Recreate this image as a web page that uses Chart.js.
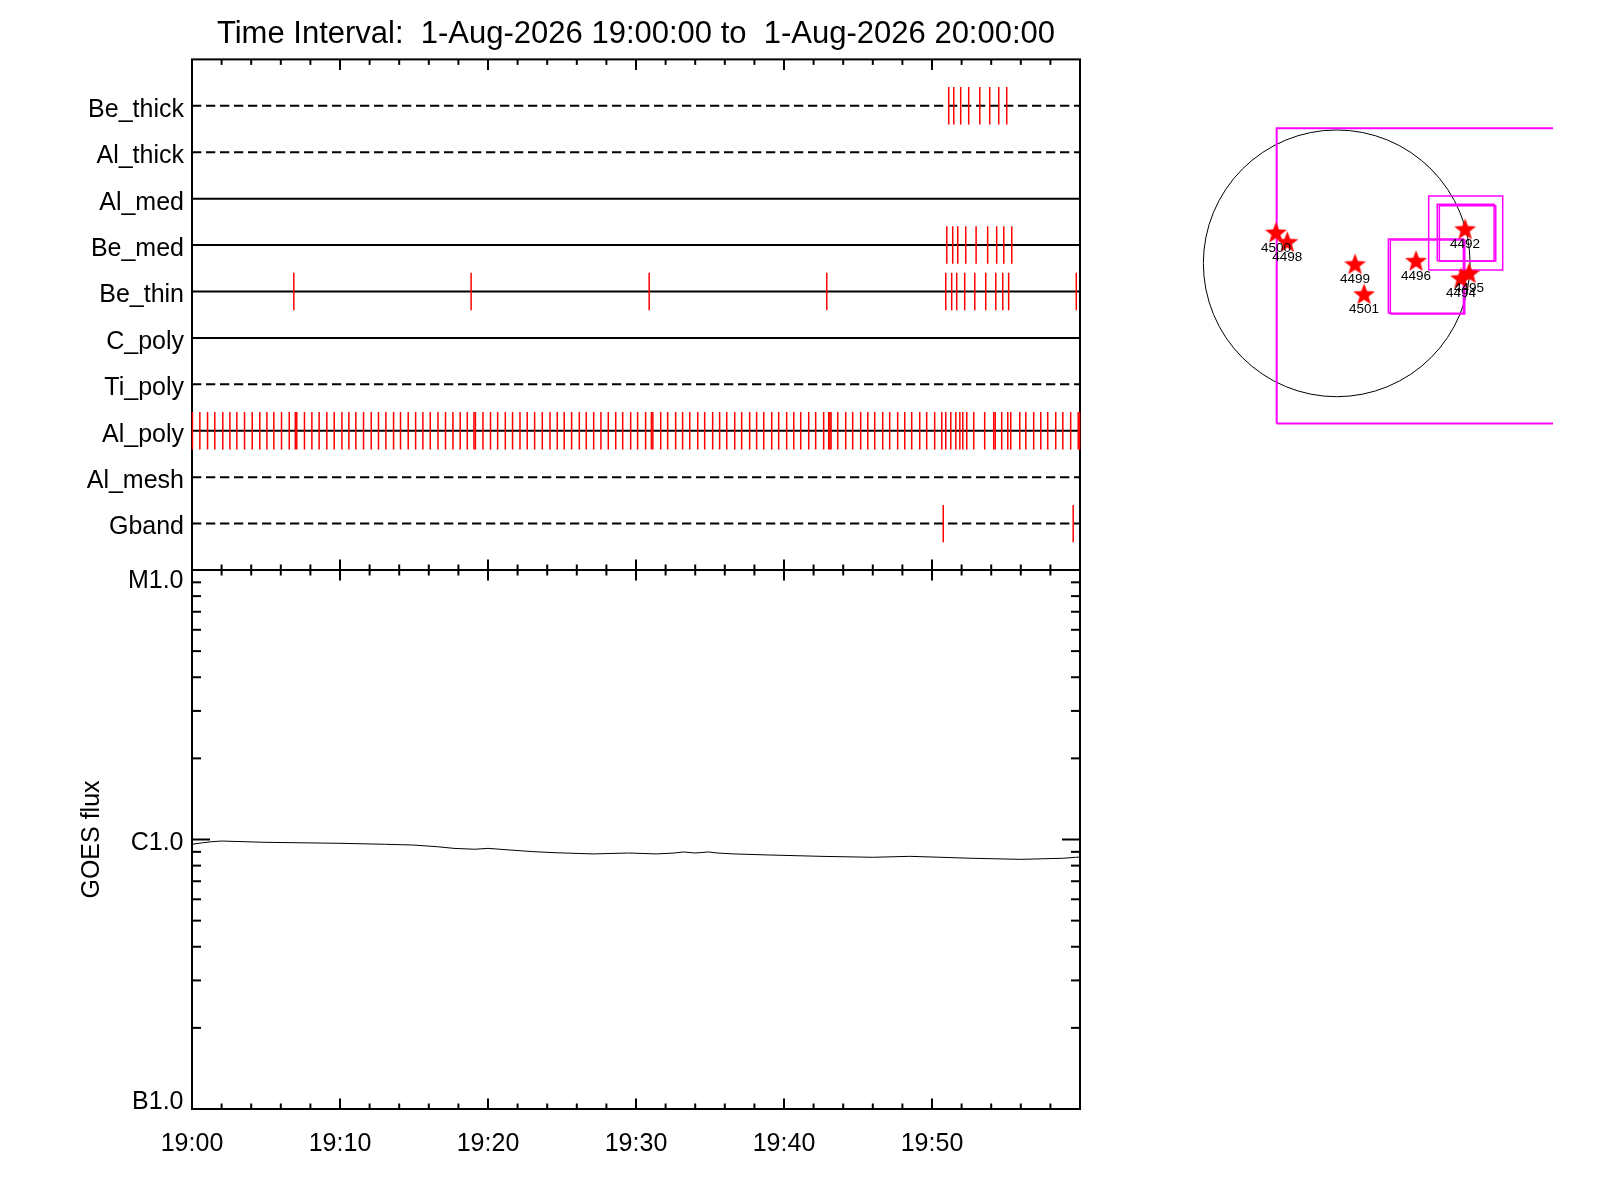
<!DOCTYPE html>
<html><head><meta charset="utf-8">
<script src="https://cdn.jsdelivr.net/npm/chart.js@4.4.1/dist/chart.umd.min.js"></script>
<style>
html,body{margin:0;padding:0;background:#fff;}
#wrap{position:relative;width:1600px;height:1200px;background:#fff;}
canvas{position:absolute;left:0;top:0;}
</style></head><body>
<div id="wrap">
<canvas id="cTop" width="1600" height="1200"></canvas>
<canvas id="cBot" width="1600" height="1200"></canvas>
<canvas id="cSun" width="1600" height="1200"></canvas>
</div>
<script>
// ---------------- DATA ----------------
const TITLE = 'Time Interval:  1-Aug-2026 19:00:00 to  1-Aug-2026 20:00:00';
// filter rows, bottom (1) to top (10)
const FILTERS = ['Gband','Al_mesh','Al_poly','Ti_poly','C_poly','Be_thin','Be_med','Al_med','Al_thick','Be_thick'];
const FILTER_DASHED = [true, true, false, true, false, false, false, false, true, true];
// exposure times, minutes after 19:00
const GBAND_T = [50.76, 59.54];
const AL_POLY_T = [0.03,0.53,1.05,1.54,2.08,2.56,3.03,3.55,4.07,4.58,5.06,5.53,6.05,6.57,6.98,7.08,7.60,8.10,8.59,9.11,9.61,10.13,10.60,11.07,11.59,12.11,12.60,13.10,13.62,14.09,14.61,15.11,15.60,16.10,16.62,17.13,17.63,18.12,18.60,19.05,19.15,19.66,20.17,20.65,21.17,21.66,22.16,22.65,23.15,23.67,24.19,24.68,25.15,25.65,26.17,26.64,27.14,27.63,28.13,28.63,29.10,29.64,30.11,30.65,31.04,31.14,31.67,32.14,32.68,33.15,33.63,34.17,34.64,35.18,35.65,36.13,36.67,37.14,37.68,38.15,38.63,39.17,39.64,40.18,40.66,41.13,41.67,42.14,42.68,43.02,43.10,43.18,43.63,44.17,44.64,45.18,45.66,46.13,46.67,47.14,47.68,48.16,48.63,49.17,49.64,50.18,50.66,50.93,51.27,51.61,51.88,52.08,52.35,52.82,53.56,54.17,54.27,54.71,55.12,55.32,55.93,56.34,56.87,57.35,57.82,58.36,58.84,59.37,59.88,59.97];
const BE_THIN_T = [6.88,18.86,30.89,42.89,50.93,51.33,51.67,52.21,52.89,53.63,54.31,54.78,55.18,59.75];
const BE_MED_T = [51.00,51.40,51.74,52.28,52.98,53.76,54.37,54.85,55.39];
const BE_THICK_T = [51.13,51.47,51.94,52.48,53.23,53.90,54.51,55.05];
const EVENTS = { Gband: GBAND_T, Al_poly: AL_POLY_T, Be_thin: BE_THIN_T, Be_med: BE_MED_T, Be_thick: BE_THICK_T };

// GOES flux (W/m^2) vs minutes after 19:00
const GOES_T    = [0, 0.7, 1.3, 2.0, 5.0, 10.0, 13.0, 14.9, 16.6, 17.7, 19.1, 20.0, 21.5, 23.1, 24.6, 27.1, 29.5, 31.4, 32.6, 33.2, 34.0, 34.9, 35.5, 36.6, 39.0, 42.5, 46.0, 48.5, 50.6, 52.6, 56.0, 58.9, 59.7, 60.0];
const GOES_FLUX = [9.60e-7, 9.72e-7, 9.81e-7, 9.87e-7, 9.76e-7, 9.68e-7, 9.60e-7, 9.54e-7, 9.40e-7, 9.27e-7, 9.20e-7, 9.27e-7, 9.14e-7, 9.01e-7, 8.93e-7, 8.84e-7, 8.91e-7, 8.84e-7, 8.91e-7, 8.99e-7, 8.91e-7, 8.99e-7, 8.91e-7, 8.84e-7, 8.76e-7, 8.66e-7, 8.59e-7, 8.66e-7, 8.59e-7, 8.52e-7, 8.44e-7, 8.52e-7, 8.59e-7, 8.60e-7];

// axis ticks
const TIME_TICKS = [0,2,4,6,8,10,12,14,16,18,20,22,24,26,28,30,32,34,36,38,40,42,44,46,48,50,52,54,56,58,60];
const TIME_MAJOR = [0,10,20,30,40,50,60];
const TIME_LABEL_AT = [0,10,20,30,40,50];
const TIME_LABELS = ['19:00','19:10','19:20','19:30','19:40','19:50'];
const FLUX_TICKS = [1e-7,2e-7,3e-7,4e-7,5e-7,6e-7,7e-7,8e-7,9e-7,1e-6,2e-6,3e-6,4e-6,5e-6,6e-6,7e-6,8e-6,9e-6,1e-5];
const FLUX_LABEL_AT = [1e-7, 1e-6, 1e-5];
const FLUX_LABELS = ['B1.0','C1.0','M1.0'];

// solar disk (arcsec)
const SUN_RADIUS = 960;
const AR_NAMES = ['4500','4498','4499','4501','4496','4492','4495','4494'];
const AR_X = [-437, -356, 132, 197, 571, 924, 953, 895];
const AR_Y = [216, 148, -12, -228, 12, 240, -77, -113];
const BOX_X0 = [-432, 662, 724, 739, 372, 386];
const BOX_X1 = [2600, 1195, 1133, 1145, 912, 922];
const BOX_Y0 = [-1153, -48, 17, 17, -360, -365];
const BOX_Y1 = [972, 485, 425, 415, 175, 168];

// ---------------- STYLE ----------------
const BOX_W = [2, 1.5, 1.5, 1.5, 1.5, 1.5];
const FLUX_LABEL_DY = [-7, 4, 11];   // vertical nudge of B/C/M labels (px)

Chart.defaults.font.family = "'Liberation Sans', Arial, sans-serif";
Chart.defaults.color = '#000';
const FS = 25;

function line(ctx, x1, y1, x2, y2) { ctx.beginPath(); ctx.moveTo(x1, y1); ctx.lineTo(x2, y2); ctx.stroke(); }

const idlFrame = {
  id: 'idlFrame',
  beforeDatasetsDraw(chart, args, opts) {
    const { ctx, chartArea: a, scales } = chart;
    ctx.save();
    ctx.strokeStyle = '#000';
    ctx.lineWidth = 2;
    ctx.strokeRect(a.left, a.top, a.right - a.left, a.bottom - a.top);
    const xs = scales.x;
    TIME_TICKS.forEach(t => {
      const px = xs.getPixelForValue(t);
      const L = TIME_MAJOR.includes(t) ? 10.5 : 5.5;
      line(ctx, px, a.top, px, a.top + L);
      line(ctx, px, a.bottom, px, a.bottom - L);
    });
    if (opts.log) {
      const ys = scales.y;
      FLUX_TICKS.forEach(v => {
        const py = ys.getPixelForValue(v);
        const L = FLUX_LABEL_AT.includes(v) ? 18 : 9;
        line(ctx, a.left, py, a.left + L, py);
        line(ctx, a.right, py, a.right - L, py);
      });
      ctx.fillStyle = '#000';
      ctx.font = FS + "px 'Liberation Sans', Arial, sans-serif";
      ctx.textAlign = 'right'; ctx.textBaseline = 'middle';
      FLUX_LABEL_AT.forEach((v, k) => {
        ctx.fillText(FLUX_LABELS[k], a.left - 8.5, ys.getPixelForValue(v) + FLUX_LABEL_DY[k]);
      });
    }
    ctx.restore();
  }
};

// ---- Top panel: filter timeline ----
const topDatasets = [];
FILTERS.forEach((name, i) => {
  const row = i + 1;
  topDatasets.push({
    type: 'line', showLine: true, order: 2,
    data: [{ x: 0, y: row }, { x: 60, y: row }],
    borderColor: '#000', borderWidth: 2, pointRadius: 0,
    borderDash: FILTER_DASHED[i] ? [9.3, 4.7] : []
  });
  if (EVENTS[name]) {
    topDatasets.push({
      type: 'scatter', showLine: false, order: 1, clip: 4,
      data: EVENTS[name].map(t => ({ x: t, y: row })),
      pointStyle: 'line', rotation: 90, pointRadius: 18.7,
      borderColor: '#ff0000', backgroundColor: '#ff0000', borderWidth: 1.5
    });
  }
});

new Chart(document.getElementById('cTop'), {
  type: 'scatter',
  data: { datasets: topDatasets },
  options: {
    responsive: false, animation: false, devicePixelRatio: 1, events: [],
    layout: { padding: { left: 0, top: 0, right: 520, bottom: 630 } },
    plugins: {
      legend: { display: false }, tooltip: { enabled: false },
      title: { display: true, text: TITLE, fullSize: false, color: '#000',
               font: { size: 31, weight: 'normal' }, padding: { top: 16.2, bottom: 6.0 } },
      idlFrame: { log: false }
    },
    scales: {
      x: { type: 'linear', min: 0, max: 60, display: false },
      y: {
        type: 'linear', min: 0, max: 11,
        grid: { display: false, drawTicks: false }, border: { display: false },
        afterBuildTicks: s => { s.ticks = FILTERS.map((n, i) => ({ value: i + 1 })); },
        afterFit: s => { s.width = 192; },
        ticks: { autoSkip: false, padding: 8, labelOffset: 4, font: { size: FS },
                 callback: v => FILTERS[v - 1] }
      }
    }
  },
  plugins: [idlFrame]
});

// ---- Bottom panel: GOES flux ----
new Chart(document.getElementById('cBot'), {
  type: 'line',
  data: { datasets: [{
    data: GOES_T.map((t, i) => ({ x: t, y: GOES_FLUX[i] })),
    borderColor: '#000', borderWidth: 1, pointRadius: 0, tension: 0, fill: false
  }] },
  options: {
    responsive: false, animation: false, devicePixelRatio: 1, events: [],
    layout: { padding: { left: 0, top: 570, right: 520, bottom: 0 } },
    plugins: { legend: { display: false }, tooltip: { enabled: false }, idlFrame: { log: true } },
    scales: {
      x: {
        type: 'linear', min: 0, max: 60,
        grid: { display: false, drawTicks: false }, border: { display: false },
        afterBuildTicks: s => { s.ticks = TIME_TICKS.map(v => ({ value: v })); },
        afterFit: s => { s.height = 91; },
        ticks: { autoSkip: false, maxRotation: 0, padding: 20.6, font: { size: FS },
                 callback: v => { const k = TIME_LABEL_AT.indexOf(v); return k >= 0 ? TIME_LABELS[k] : ''; } }
      },
      y: {
        type: 'logarithmic', min: 1e-7, max: 1e-5,
        grid: { display: false, drawTicks: false }, border: { display: false },
        afterBuildTicks: s => { s.ticks = FLUX_TICKS.map(v => ({ value: v })); },
        afterFit: s => { s.width = 192; },
        title: { display: true, text: 'GOES flux', font: { size: FS }, padding: { top: 77, bottom: 0 } },
        ticks: { autoSkip: false, padding: 8.5, font: { size: FS }, callback: () => '' }
      }
    }
  },
  plugins: [idlFrame]
});

// ---- Solar disk panel ----
function makeStar(r, color) {
  const c = document.createElement('canvas');
  const s = Math.ceil(r * 2 + 2); c.width = s; c.height = s;
  const g = c.getContext('2d');
  g.fillStyle = color; g.beginPath();
  for (let i = 0; i < 10; i++) {
    const rad = (i % 2) ? r * 0.42 : r;
    const ang = -Math.PI / 2 + i * Math.PI / 5;
    const px = s / 2 + rad * Math.cos(ang), py = s / 2 + rad * Math.sin(ang);
    if (i) g.lineTo(px, py); else g.moveTo(px, py);
  }
  g.closePath(); g.fill();
  return c;
}
const STAR = makeStar(11.5, '#ff0000');

const sunDatasets = BOX_X0.map((x0, i) => ({
  type: 'line', showLine: true, order: 2,
  data: [{ x: x0, y: BOX_Y0[i] }, { x: BOX_X1[i], y: BOX_Y0[i] }, { x: BOX_X1[i], y: BOX_Y1[i] }, { x: x0, y: BOX_Y1[i] }, { x: x0, y: BOX_Y0[i] }],
  borderColor: '#ff00ff', borderWidth: BOX_W[i], pointRadius: 0, tension: 0
}));
sunDatasets.push({
  type: 'scatter', order: 1,
  data: AR_X.map((x, i) => ({ x: x, y: AR_Y[i] })),
  pointStyle: STAR, pointRadius: 11
});

const sunPlugin = {
  id: 'sunPlugin',
  beforeDatasetsDraw(chart) {
    const { ctx, scales: { x, y } } = chart;
    const cx = x.getPixelForValue(0), cy = y.getPixelForValue(0);
    const r = x.getPixelForValue(SUN_RADIUS) - cx;
    ctx.save();
    ctx.strokeStyle = '#000'; ctx.lineWidth = 1;
    ctx.beginPath(); ctx.arc(cx, cy, r, 0, Math.PI * 2); ctx.stroke();
    ctx.restore();
  },
  afterDatasetsDraw(chart) {
    const { ctx, scales: { x, y } } = chart;
    ctx.save();
    ctx.fillStyle = '#000';
    ctx.font = "13.5px 'Liberation Sans', Arial, sans-serif";
    ctx.textAlign = 'center'; ctx.textBaseline = 'middle';
    AR_NAMES.forEach((n, i) => {
      ctx.fillText(n, x.getPixelForValue(AR_X[i]), y.getPixelForValue(AR_Y[i]) + 14.5);
    });
    ctx.restore();
  }
};

new Chart(document.getElementById('cSun'), {
  type: 'scatter',
  data: { datasets: sunDatasets },
  options: {
    responsive: false, animation: false, devicePixelRatio: 1, events: [],
    layout: { padding: { left: 1150, top: 100, right: 47, bottom: 750 } },
    plugins: { legend: { display: false }, tooltip: { enabled: false } },
    scales: {
      x: { type: 'linear', min: -1344, max: 1557, display: false },
      y: { type: 'linear', min: -1344, max: 1176, display: false }
    }
  },
  plugins: [sunPlugin]
});
</script>
</body></html>
